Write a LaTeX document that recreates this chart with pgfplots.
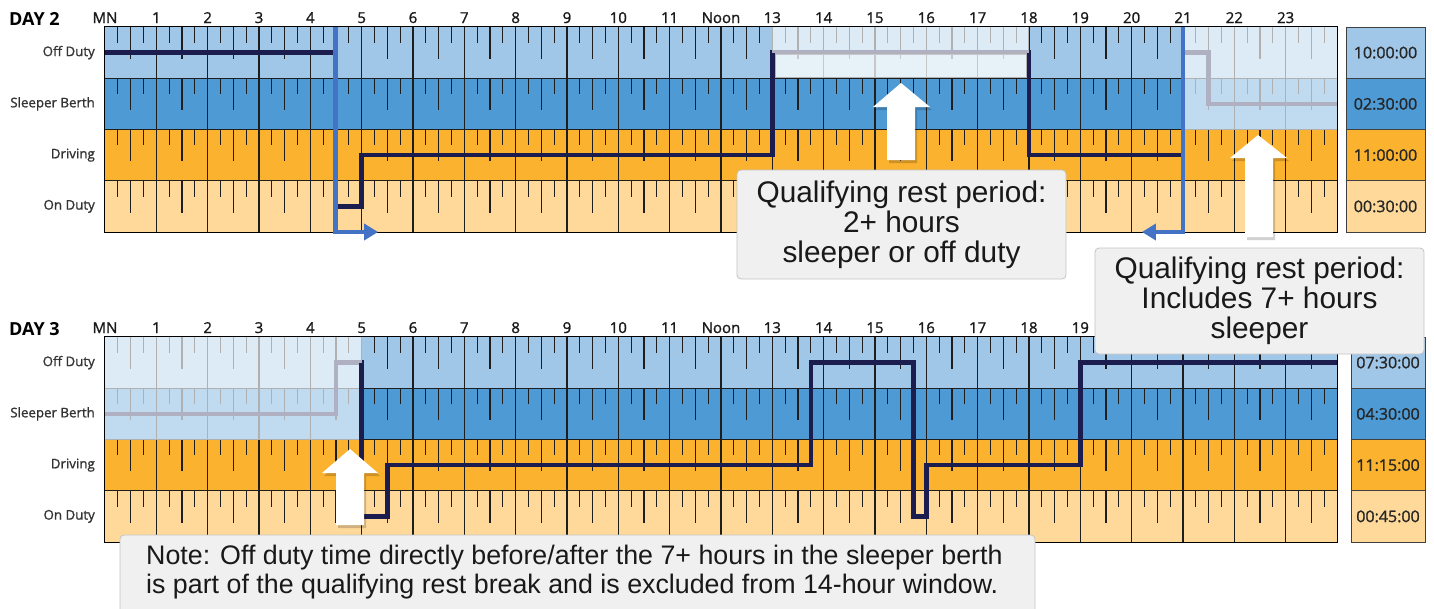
\documentclass[border=0pt]{standalone}
\usepackage{pgfplots}
\pgfplotsset{compat=1.18}
\usetikzlibrary{arrows.meta}
\usepackage{fontspec}
\setmainfont{Open Sans}
\newfontfamily\arialf{Liberation Sans}
\newfontfamily\sbf{Open Sans}[FakeBold=1.2]
\definecolor{offc}{HTML}{A0C6E8}
\definecolor{slc}{HTML}{4D9AD5}
\definecolor{drc}{HTML}{FBB22F}
\definecolor{onc}{HTML}{FED99A}
\definecolor{logc}{HTML}{1A1D4E}
\definecolor{blu}{HTML}{4472C4}
\definecolor{boxf}{HTML}{F0F0F0}
\definecolor{boxd}{HTML}{C4C4C4}
\definecolor{tkc}{HTML}{1E1E1E}
\tikzset{tk/.style={draw=tkc, line width=1.3pt},
  hl/.style={draw=tkc, line width=1.1pt},
  logline/.style={logc, line width=4.4pt, line join=miter, no markers},
  wash/.style={white, opacity=0.65}}
\newcommand\hourticks[1]{%
 \draw[tk] (axis cs:#1.25,4)--(axis cs:#1.25,3.69) (axis cs:#1.5,4)--(axis cs:#1.5,3.38) (axis cs:#1.75,4)--(axis cs:#1.75,3.69)
 (axis cs:#1.25,3)--(axis cs:#1.25,2.69) (axis cs:#1.5,3)--(axis cs:#1.5,2.38) (axis cs:#1.75,3)--(axis cs:#1.75,2.69)
 (axis cs:#1.25,2)--(axis cs:#1.25,1.69) (axis cs:#1.5,2)--(axis cs:#1.5,1.38) (axis cs:#1.75,2)--(axis cs:#1.75,1.69)
 (axis cs:#1.25,1)--(axis cs:#1.25,0.69) (axis cs:#1.5,1)--(axis cs:#1.5,0.38) (axis cs:#1.75,1)--(axis cs:#1.75,0.69);}
\newcommand\rowsbg{%
 \fill[onc] (axis cs:0,0) rectangle (axis cs:24,1);
 \fill[drc] (axis cs:0,1) rectangle (axis cs:24,2);
 \fill[slc] (axis cs:0,2) rectangle (axis cs:24,3);
 \fill[offc] (axis cs:0,3) rectangle (axis cs:24,4);
 \pgfplotsinvokeforeach{1,...,23}{\draw[hl] (axis cs:##1,0) -- (axis cs:##1,4);}
 \draw[hl] (axis cs:0,1)--(axis cs:24,1) (axis cs:0,2)--(axis cs:24,2) (axis cs:0,3)--(axis cs:24,3);
 \pgfplotsinvokeforeach{0,...,23}{\hourticks{##1}}}
\pgfplotsset{dayaxis/.style={
  scale only axis, width=1232pt, height=205pt,
  xmin=0, xmax=24, ymin=0, ymax=4, clip=false,
  axis line style={black, line width=1.2pt},
  xtick={0,...,23},
  xticklabel pos=upper,
  ytick={0.5,1.5,2.5,3.5},
  yticklabels={On Duty,Driving,Sleeper Berth,Off Duty},
  major tick length=0pt, tick style={draw=none},
  xticklabel style={font=\sbf\fontsize{15}{15}\selectfont, text=black!90, anchor=base, inner sep=0pt, yshift=4pt},
  yticklabel style={font=\sbf\fontsize{13.3}{14}\selectfont, text=black!80, anchor=east, inner sep=0pt, xshift=-10pt},
}}
\begin{document}
\begin{tikzpicture}[x=1pt,y=1pt]
\useasboundingbox (0,0) rectangle (1434,-608);
\clip (0,0) rectangle (1434,-608);

% ---------------- DAY 2 ----------------
\begin{axis}[dayaxis, at={(105pt,-232pt)}, anchor=south west,
  xticklabels={MN,1,2,3,4,5,6,7,8,9,10,11,Noon,13,14,15,16,17,18,19,20,21,22,23}]
\rowsbg
\addplot[logline, const plot] coordinates {(0,3.5)(4.5,0.5)(5,1.5)(13,3.5)(18,1.5)(21,3.5)(21.5,2.5)(24,2.5)};
\fill[wash] (axis cs:13,3) rectangle (axis cs:18,4);
\fill[white, opacity=0.3] (axis cs:13.06,3.02) rectangle (axis cs:17.94,3.48);
\draw[black!30, line width=0.8pt] (axis cs:13.06,3.02) rectangle (axis cs:17.94,3.48);
\fill[wash] (axis cs:21,2) rectangle (axis cs:24,4);
\addplot[logline] coordinates {(13,1.5)(13,3.5)};
\addplot[logline] coordinates {(18,3.5)(18,1.5)(21,1.5)};
\draw[blu, line width=4.8pt, -{Triangle[length=14pt,width=16pt]}] (axis cs:4.49,4) -- (axis cs:4.49,0) -- (axis cs:5.32,0);
\draw[blu, line width=4.8pt, -{Triangle[length=14pt,width=16pt]}] (axis cs:21,4) -- (axis cs:21,0) -- (axis cs:20.2,0);
\end{axis}

% ---------------- DAY 3 ----------------
\begin{axis}[dayaxis, at={(105pt,-542pt)}, anchor=south west,
  xticklabels={MN,1,2,3,4,5,6,7,8,9,10,11,Noon,13,14,15,16,17,18,19,,,,}]
\rowsbg
\addplot[logline, const plot] coordinates {(0,2.5)(4.5,3.5)(5,0.5)(5.5,1.5)(13.75,3.5)(15.75,0.5)(16,1.5)(19,3.5)(24,3.5)};
\fill[wash] (axis cs:0,2) rectangle (axis cs:5,4);
\addplot[logline, const plot] coordinates {(5,3.5)(5,0.5)(5.5,1.5)(13.75,3.5)(15.75,0.5)(16,1.5)(19,3.5)(24,3.5)};
\end{axis}

% ---------------- day titles ----------------
\node[anchor=base west, inner sep=0pt, font=\bfseries\fontsize{18}{18}\selectfont] at (9,-25) {DAY 2};
\node[anchor=base west, inner sep=0pt, font=\bfseries\fontsize{18}{18}\selectfont] at (9,-335) {DAY 3};

% ---------------- summary boxes ----------------
\begin{scope}[line width=1pt]
\fill[offc] (1346,-27) rectangle (1425,-78.25);
\fill[slc] (1346,-78.25) rectangle (1425,-129.5);
\fill[drc] (1346,-129.5) rectangle (1425,-180.75);
\fill[onc] (1346,-180.75) rectangle (1425,-232);
\draw[black!75] (1346,-27) rectangle (1425,-232);
\draw[black!75] (1346,-78.25)--(1425,-78.25) (1346,-129.5)--(1425,-129.5) (1346,-180.75)--(1425,-180.75);
\fill[offc] (1351,-337) rectangle (1425,-388.25);
\fill[slc] (1351,-388.25) rectangle (1425,-439.5);
\fill[drc] (1351,-439.5) rectangle (1425,-490.75);
\fill[onc] (1351,-490.75) rectangle (1425,-542);
\draw[black!75] (1351,-337) rectangle (1425,-542);
\draw[black!75] (1351,-388.25)--(1425,-388.25) (1351,-439.5)--(1425,-439.5) (1351,-490.75)--(1425,-490.75);
\end{scope}
\begin{scope}[every node/.style={font=\sbf\fontsize{16}{16}\selectfont, text=black!85, inner sep=0pt}]
\node at (1385.5,-52.6) {10:00:00};
\node at (1385.5,-103.9) {02:30:00};
\node at (1385.5,-155.1) {11:00:00};
\node at (1385.5,-206.4) {00:30:00};
\node at (1388,-362.6) {07:30:00};
\node at (1388,-413.9) {04:30:00};
\node at (1388,-465.1) {11:15:00};
\node at (1388,-516.4) {00:45:00};
\end{scope}

% ---------------- white arrows ----------------
\begin{scope}
\fill[black, opacity=0.18] (889,-163) -- (889,-110) -- (875,-110) -- (903,-86) -- (932,-110) -- (917,-110) -- (917,-163) -- cycle;
\fill[white] (887,-160) -- (887,-107) -- (873,-107) -- (901,-83) -- (930,-107) -- (915,-107) -- (915,-160) -- cycle;
\fill[black, opacity=0.18] (1247,-240) -- (1247,-161) -- (1232,-161) -- (1260,-138) -- (1289,-161) -- (1275,-161) -- (1275,-240) -- cycle;
\fill[white] (1245,-237) -- (1245,-158) -- (1230,-158) -- (1258,-135) -- (1287,-158) -- (1273,-158) -- (1273,-237) -- cycle;
\fill[black, opacity=0.18] (338,-528) -- (338,-476) -- (324,-476) -- (352,-452) -- (380,-476) -- (366,-476) -- (366,-528) -- cycle;
\fill[white] (336,-525) -- (336,-473) -- (322,-473) -- (350,-449) -- (378,-473) -- (364,-473) -- (364,-525) -- cycle;
\end{scope}

% ---------------- callouts ----------------
\filldraw[fill=boxf, draw=boxd, line width=0.8pt, rounded corners=4pt] (737,-170) rectangle (1066,-279);
\node[align=center, font=\arialf\fontsize{29.8}{30}\selectfont, text=black!90, inner sep=0pt] at (901.5,-225) {Qualifying rest period:\\2+ hours\\sleeper or off duty};
\filldraw[fill=boxf, draw=boxd, line width=0.8pt, rounded corners=4pt] (1095,-248) rectangle (1424,-354);
\node[align=center, font=\arialf\fontsize{29.8}{30}\selectfont, text=black!90, inner sep=0pt] at (1259.5,-301) {Qualifying rest period:\\Includes 7+ hours\\sleeper};
\filldraw[fill=boxf, draw=boxd, line width=0.8pt, rounded corners=4pt] (120,-535) rectangle (1035,-630);
\node[align=left, font=\arialf\fontsize{26.8}{29}\selectfont, text=black!90, inner sep=0pt, anchor=west] at (146,-572) {Note: Off duty time directly before/after the 7+ hours in the sleeper berth\\is part of the qualifying rest break and is excluded from 14-hour window.};
\end{tikzpicture}
\end{document}
